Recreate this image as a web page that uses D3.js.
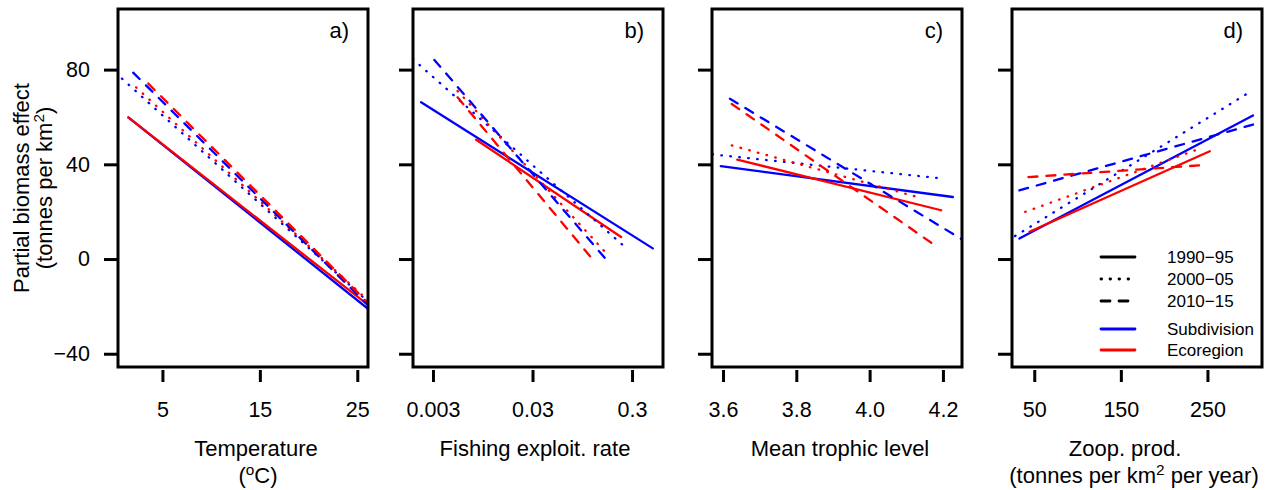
<!DOCTYPE html>
<html>
<head>
<meta charset="utf-8">
<script src="https://cdn.jsdelivr.net/npm/d3@7"></script>
<style>
body { margin: 0; background: #fff; }
svg { font-family: "Liberation Sans", Arial, sans-serif; }
</style>
</head>
<body>
<svg id="chart" width="1271" height="490"></svg>
<script>
// values: every fitted line is given by its two end points
const periods = ["1990−95", "2000−05", "2010−15"];
const levels = ["Subdivision", "Ecoregion"];

const yTicks = [-40, 0, 40, 80];
const yLim = [-40, 100];

const tempTicks = [5, 15, 25];
const tempLines = [
  {period: "1990−95", level: "Subdivision", x: [1.5, 26.1], y: [59.8, -21.0]},
  {period: "1990−95", level: "Ecoregion", x: [1.5, 26.1], y: [59.8, -19.4]},
  {period: "2000−05", level: "Subdivision", x: [0.85, 26.1], y: [76.2, -18.0]},
  {period: "2000−05", level: "Ecoregion", x: [2.3, 26.1], y: [72.5, -17.5]},
  {period: "2010−15", level: "Subdivision", x: [2.0, 26.1], y: [78.7, -19.5]},
  {period: "2010−15", level: "Ecoregion", x: [3.55, 26.1], y: [74.1, -18.5]}
];

const fishTicks = [0.003, 0.03, 0.3];
const fishLines = [
  {period: "1990−95", level: "Subdivision", x: [0.00228, 0.485], y: [66.2, 4.5]},
  {period: "1990−95", level: "Ecoregion", x: [0.00815, 0.233], y: [50.4, 9.3]},
  {period: "2000−05", level: "Subdivision", x: [0.00188, 0.253], y: [84.5, 5.2]},
  {period: "2000−05", level: "Ecoregion", x: [0.0053, 0.178], y: [71.0, 1.0]},
  {period: "2010−15", level: "Subdivision", x: [0.0031, 0.178], y: [84.1, -1.8]},
  {period: "2010−15", level: "Ecoregion", x: [0.0053, 0.126], y: [68.3, -1.1]}
];

const trophicTicks = [3.6, 3.8, 4.0, 4.2];
const trophicLines = [
  {period: "1990−95", level: "Subdivision", x: [3.594, 4.227], y: [39.2, 26.2]},
  {period: "1990−95", level: "Ecoregion", x: [3.639, 4.195], y: [42.0, 20.6]},
  {period: "2000−05", level: "Subdivision", x: [3.571, 4.199], y: [44.2, 34.0]},
  {period: "2000−05", level: "Ecoregion", x: [3.624, 4.144], y: [48.0, 25.6]},
  {period: "2010−15", level: "Subdivision", x: [3.619, 4.252], y: [67.7, 8.3]},
  {period: "2010−15", level: "Ecoregion", x: [3.624, 4.181], y: [65.5, 5.5]}
];

const zoopTicks = [50, 150, 250];
const zoopLines = [
  {period: "1990−95", level: "Subdivision", x: [32.8, 302.6], y: [8.7, 60.6]},
  {period: "1990−95", level: "Ecoregion", x: [44.5, 252.7], y: [11.5, 45.5]},
  {period: "2000−05", level: "Subdivision", x: [27.8, 300.6], y: [9.7, 70.9]},
  {period: "2000−05", level: "Ecoregion", x: [39.5, 238], y: [19.9, 46.2]},
  {period: "2010−15", level: "Subdivision", x: [32.8, 302.6], y: [29.0, 56.8]},
  {period: "2010−15", level: "Ecoregion", x: [43.3, 242], y: [34.6, 39.6]}
];

// styles
const colour = {"Subdivision": "#0000ff", "Ecoregion": "#ff0000"};
const dash = {"1990−95": null, "2000−05": "0.6,8.4", "2010−15": "9,9"};

const svg = d3.select("#chart");
const plotTop = 9, plotBottom = 367, panelW = 250;
const lefts = [118, 413, 712, 1012];

// R style ylim with 4% padding
const pad = (yLim[1] - yLim[0]) * 0.04;
const y = d3.scaleLinear().domain([yLim[0] - pad, yLim[1] + pad]).range([plotBottom, plotTop]);

const panels = [
  {tag: "a)", lines: tempLines, ticks: tempTicks, scale: d3.scaleLinear().domain([0.44, 26.1]), fmt: d3.format("d"),
   title: [{dx: 13, segs: [["Temperature"]]}, {dx: 15, segs: [["("], ["o", 1], ["C)"]]}]},
  {tag: "b)", lines: fishLines, ticks: fishTicks, scale: d3.scaleLog().domain([0.00189, 0.614]), fmt: d => String(d),
   title: [{dx: -3, segs: [["Fishing exploit. rate"]]}]},
  {tag: "c)", lines: trophicLines, ticks: trophicTicks, scale: d3.scaleLinear().domain([3.570, 4.252]), fmt: d3.format(".1f"),
   title: [{dx: 3, segs: [["Mean trophic level"]]}]},
  {tag: "d)", lines: zoopLines, ticks: zoopTicks, scale: d3.scaleLinear().domain([24.3, 313]), fmt: d3.format("d"),
   title: [{dx: -12, segs: [["Zoop. prod."]]}, {dx: -3, segs: [["(tonnes per km"], ["2", 1], [" per year)"]]}]}
];

function addSegs(text, segs) {
  segs.forEach(s => {
    const t = text.append("tspan").text(s[0]);
    if (s[1]) t.attr("baseline-shift", "super").attr("font-size", "70%");
  });
}

panels.forEach((p, i) => {
  const left = lefts[i];
  const x = p.scale.range([left, left + panelW]);
  const g = svg.append("g");

  g.append("clipPath").attr("id", "clip" + i)
    .append("rect").attr("x", left).attr("y", plotTop).attr("width", panelW).attr("height", plotBottom - plotTop);

  // fitted lines
  const line = d3.line().x(d => x(d[0])).y(d => y(d[1]));
  g.append("g").attr("clip-path", `url(#clip${i})`)
    .selectAll("path")
    .data(p.lines)
    .join("path")
    .attr("d", d => line(d.x.map((v, k) => [v, d.y[k]])))
    .attr("fill", "none")
    .attr("stroke", d => colour[d.level])
    .attr("stroke-width", 2.3)
    .attr("stroke-linecap", "round")
    .attr("stroke-dasharray", d => dash[d.period]);

  // y axis (labels only on the first panel)
  const yAxis = d3.axisLeft(y).tickValues(yTicks).tickSize(14).tickPadding(14)
    .tickFormat(d => i === 0 ? d3.format("d")(d).replace("-", "−") : "");
  g.append("g").attr("transform", `translate(${left},0)`).call(yAxis)
    .call(a => a.select(".domain").remove())
    .call(a => a.selectAll("line").attr("stroke-width", 3))
    .call(a => a.selectAll("text").attr("font-size", 21.5).attr("fill", "#000"));

  // x axis
  const xAxis = d3.axisBottom(x).tickValues(p.ticks).tickSize(12).tickPadding(20).tickFormat(p.fmt);
  g.append("g").attr("transform", `translate(0,${plotBottom + 3})`).call(xAxis)
    .call(a => a.select(".domain").remove())
    .call(a => a.selectAll("line").attr("stroke-width", 3))
    .call(a => a.selectAll("text").attr("font-size", 21.5).attr("fill", "#000"));

  // box
  g.append("rect")
    .attr("x", left).attr("y", plotTop).attr("width", panelW).attr("height", plotBottom - plotTop)
    .attr("fill", "none").attr("stroke", "#000").attr("stroke-width", 3);

  // panel tag
  g.append("text").attr("x", left + panelW - 19).attr("y", 38)
    .attr("text-anchor", "end").attr("font-size", 22).text(p.tag);

  // axis title
  p.title.forEach((t, k) => {
    const tx = g.append("text")
      .attr("x", left + panelW / 2 + t.dx).attr("y", 456 + k * 27)
      .attr("text-anchor", "middle").attr("font-size", 22);
    addSegs(tx, t.segs);
  });
});

svg.selectAll(".tick text").attr("font-family", "Liberation Sans, Arial, sans-serif");

// y axis title
svg.append("text").attr("transform", "translate(29,188) rotate(-90)")
  .attr("text-anchor", "middle").attr("font-size", 22).text("Partial biomass effect");
const yt2 = svg.append("text").attr("transform", "translate(52,188) rotate(-90)")
  .attr("text-anchor", "middle").attr("font-size", 22);
addSegs(yt2, [["(tonnes per km"], ["2", 1], [")"]]);

// legend in panel d
const legendItems = periods.map(d => ({label: d, stroke: "#000", dash: dash[d]}))
  .concat(levels.map(d => ({label: d, stroke: colour[d], dash: null})));
const legendY = [257, 279, 301, 329, 350];
const legend = svg.append("g");
const rows = legend.selectAll("g").data(legendItems).join("g")
  .attr("transform", (d, k) => `translate(1101,${legendY[k]})`);
rows.append("line").attr("x1", 0).attr("x2", 34)
  .attr("stroke", d => d.stroke).attr("stroke-width", 2.8)
  .attr("stroke-dasharray", d => d.dash).attr("stroke-linecap", "round");
rows.append("text").attr("x", 66).attr("dy", "0.35em").attr("font-size", 17).text(d => d.label);
</script>
</body>
</html>
